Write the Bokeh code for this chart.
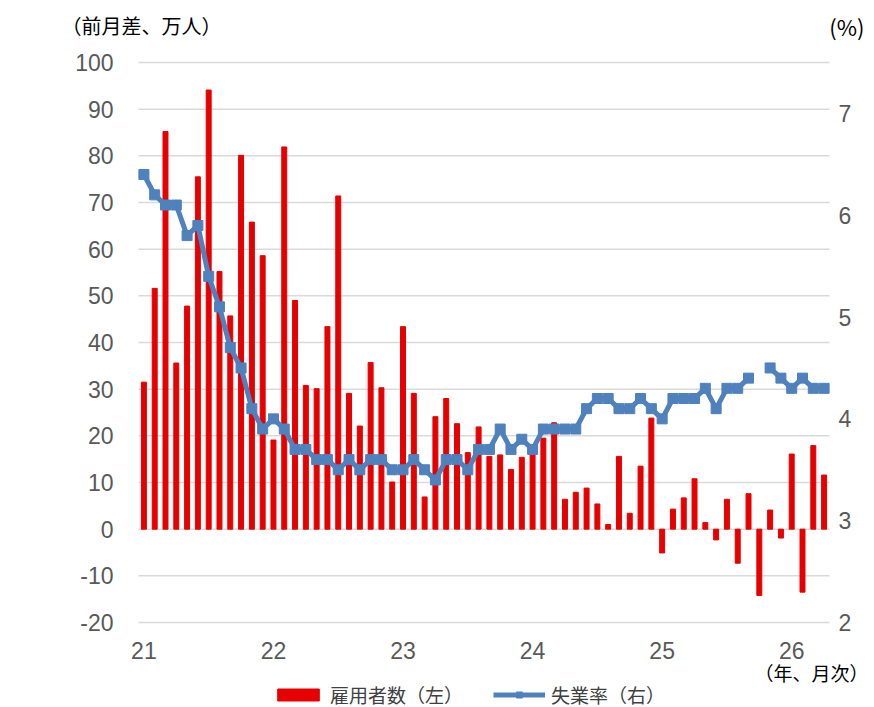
from bokeh.plotting import figure
from bokeh.models import Range1d, LinearAxis, FixedTicker, Legend, LegendItem, Label
from bokeh.embed import file_html
from bokeh.resources import INLINE

nan = float("nan")

# ---- data (monthly, Jan 2021 - Apr 2026) ----
year_labels = ["21", "22", "23", "24", "25", "26"]

employment = [  # 前月差、万人
    31.5, 51.6, 85.2, 35.6, 47.8, 75.5, 94.1, 55.2, 45.7, 80.1, 65.8, 58.6,   # 2021
    19.1, 81.9, 49.0, 30.8, 30.1, 43.4, 71.4, 29.1, 22.1, 35.7, 30.3, 10.1,   # 2022
    43.4, 29.1, 6.9, 24.1, 28.0, 22.6, 16.4, 21.9, 15.6, 15.9, 12.8, 15.4,    # 2023
    16.0, 19.5, 22.8, 6.4, 7.9, 8.8, 5.4, 1.0, 15.6, 3.4, 13.5, 23.8,         # 2024
    -5.1, 4.3, 6.7, 10.8, 1.4, -2.3, 6.4, -7.3, 7.6, -14.2, 4.1, -1.9,        # 2025
    16.1, -13.5, 17.9, 11.6,                                                  # 2026
]

unemployment = [  # %
    6.4, 6.2, 6.1, 6.1, 5.8, 5.9, 5.4, 5.1, 4.7, 4.5, 4.1, 3.9,   # 2021
    4.0, 3.9, 3.7, 3.7, 3.6, 3.6, 3.5, 3.6, 3.5, 3.6, 3.6, 3.5,   # 2022
    3.5, 3.6, 3.5, 3.4, 3.6, 3.6, 3.5, 3.7, 3.7, 3.9, 3.7, 3.8,   # 2023
    3.7, 3.9, 3.9, 3.9, 3.9, 4.1, 4.2, 4.2, 4.1, 4.1, 4.2, 4.1,   # 2024
    4.0, 4.2, 4.2, 4.2, 4.3, 4.1, 4.3, 4.3, 4.4, nan, 4.5, 4.4,   # 2025
    4.3, 4.4, 4.3, 4.3,                                           # 2026
]

left_ticks = list(range(-20, 101, 10))
right_ticks = [2, 3, 4, 5, 6, 7]
LEFT_MIN, LEFT_MAX = -20, 100
RIGHT_MIN, RIGHT_MAX = 2, 7.5

n = len(employment)
xs = [i + 0.5 for i in range(n)]
year_ticks = [12 * k + 0.5 for k in range(len(year_labels))]

# ---- layout (pixels): the frame covers the whole canvas, axes sit at fixed spots ----
W, H = 874, 707
PLOT_L, PLOT_R, PLOT_T, PLOT_B = 138, 829, 62, 622   # visible axis box
ppm = (PLOT_R - PLOT_L) / n
ppu_l = (PLOT_B - PLOT_T) / (LEFT_MAX - LEFT_MIN)
ppu_r = (PLOT_B - PLOT_T) / (RIGHT_MAX - RIGHT_MIN)


def dx(px):
    return (px - PLOT_L) / ppm


def dy(py):
    return LEFT_MAX - (py - PLOT_T) / ppu_l


BAR = "#E60000"
LINE = "#4F81BD"
GRID = "#D9D9D9"
TICK = "#595959"
NUM_FONT = "Liberation Sans"
JP_FONT = "Noto Sans CJK JP"

p = figure(width=W, height=H, output_backend="svg", toolbar_location=None,
           x_range=Range1d(dx(0), dx(W)), y_range=Range1d(dy(H), dy(0)),
           min_border=0)
p.outline_line_color = None
p.grid.visible = False


def style_axis(ax, standoff):
    ax.axis_line_color = None
    ax.major_tick_line_color = None
    ax.minor_tick_line_color = None
    ax.major_tick_out = 0
    ax.major_tick_in = 0
    ax.major_label_standoff = standoff
    ax.major_label_text_font = NUM_FONT
    ax.major_label_text_font_size = "23px"
    ax.major_label_text_color = TICK


p.yaxis.ticker = FixedTicker(ticks=left_ticks)
p.yaxis.major_label_overrides = {t: str(t) for t in left_ticks}
p.yaxis.fixed_location = 0
style_axis(p.yaxis[0], 25)

p.xaxis.ticker = FixedTicker(ticks=year_ticks)
p.xaxis.major_label_overrides = {t: lab for t, lab in zip(year_ticks, year_labels)}
p.xaxis.fixed_location = LEFT_MIN
style_axis(p.xaxis[0], 19)

p.extra_y_ranges = {"rate": Range1d(RIGHT_MIN - (H - PLOT_B) / ppu_r,
                                    RIGHT_MAX + PLOT_T / ppu_r)}
rax = LinearAxis(y_range_name="rate", ticker=FixedTicker(ticks=right_ticks),
                 fixed_location=n)
style_axis(rax, 9)
p.add_layout(rax, "right")

# horizontal gridlines at the left-axis ticks, spanning the month range
p.segment(x0=[0] * len(left_ticks), x1=[n] * len(left_ticks),
          y0=left_ticks, y1=left_ticks, line_color=GRID, line_width=1.5,
          level="underlay")

bars = p.vbar(x=xs, top=employment, bottom=0, width=0.46, color=BAR)
ln = p.line(xs, unemployment, y_range_name="rate", line_width=5, color=LINE)
sq = p.scatter(xs, unemployment, y_range_name="rate", marker="square", size=10,
               color=LINE)

legend = Legend(items=[LegendItem(label="雇用者数（左）", renderers=[bars]),
                       LegendItem(label="失業率（右）", renderers=[ln, sq])],
                location=(272, -1), orientation="horizontal",
                border_line_color=None, background_fill_alpha=0,
                padding=0, margin=0, spacing=30, label_standoff=6,
                glyph_width=52, glyph_height=15,
                label_text_font=JP_FONT, label_text_font_size="19px",
                label_text_color="#404040")
p.add_layout(legend)

# unit captions
p.add_layout(Label(x=dx(61), y=dy(25), text="（前月差、万人）", text_font=JP_FONT,
                   text_font_size="20px", text_color="#000000",
                   text_baseline="middle", text_align="left"))
p.add_layout(Label(x=dx(864), y=dy(25), text="(%)", text_font=JP_FONT,
                   text_font_size="22px", text_color="#000000",
                   text_baseline="middle", text_align="right"))
p.add_layout(Label(x=dx(868), y=dy(672), text="（年、月次）", text_font=JP_FONT,
                   text_font_size="19px", text_color="#000000",
                   text_baseline="middle", text_align="right"))

open("out.html", "w").write(file_html(p, INLINE))
